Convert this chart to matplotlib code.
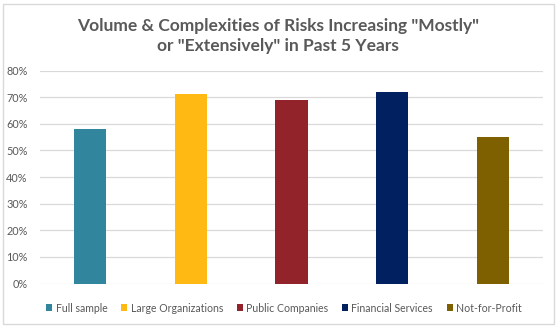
import matplotlib.pyplot as plt
from matplotlib.patches import Rectangle
from matplotlib.ticker import PercentFormatter

# 数据
categories = ["Full sample", "Large Organizations", "Public Companies",
              "Financial Services", "Not-for-Profit"]
values = [58, 71, 69, 72, 55]
colors = ["#31859C", "#FFB912", "#93232A", "#002060", "#7F6000"]
yticks = [0, 10, 20, 30, 40, 50, 60, 70, 80]

TXT = "#595959"
GRID = "#D9D9D9"

plt.rcParams["font.family"] = ["Lato", "DejaVu Sans"]

W, H = 560, 329
fig = plt.figure(figsize=(W / 100, H / 100), dpi=100)
ax = fig.add_axes([40 / W, 1 - 283.5 / H, 503 / W, 213 / H])

x = range(len(categories))
bars = ax.bar(x, values, width=0.32, color=colors, label=categories, zorder=3)

ax.set_xlim(-0.5, len(categories) - 0.5)
ax.set_ylim(0, 80)
ax.set_yticks(yticks)
ax.yaxis.set_major_formatter(PercentFormatter(decimals=0))
ax.set_xticks([])
ax.grid(axis="y", color=GRID, lw=0.9, zorder=0)
for s in ax.spines.values():
    s.set_visible(False)
ax.tick_params(axis="y", length=0, pad=9, labelsize=7.8, labelcolor=TXT)

fig.text(0.497, 1 - 36 / H,
         'Volume & Complexities of Risks Increasing "Mostly"\nor "Extensively" in Past 5 Years',
         ha="center", va="center", fontsize=12.5, fontweight="bold",
         color=TXT, linespacing=1.25)

leg = fig.legend(bars, categories, loc="center", ncol=5,
                 bbox_to_anchor=(284 / W, 1 - 308 / H), frameon=False,
                 fontsize=7.6, handlelength=0.6, handleheight=0.6,
                 handletextpad=0.3, columnspacing=1.3)
for t in leg.get_texts():
    t.set_color(TXT)

# 外框
fig.patches.append(Rectangle((3 / W, 1 - 324 / H), 551 / W, 320 / H,
                             transform=fig.transFigure, fill=False,
                             edgecolor=GRID, lw=1.0))

fig.savefig("out.png", dpi=100)
